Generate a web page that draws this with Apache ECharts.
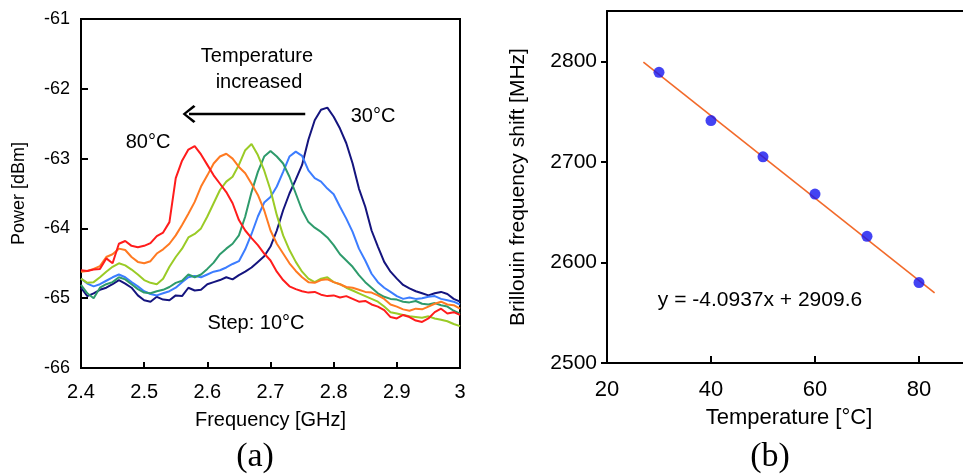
<!DOCTYPE html>
<html>
<head>
<meta charset="utf-8">
<script src="https://cdn.jsdelivr.net/npm/echarts@6/dist/echarts.min.js"></script>
<style>
html,body{margin:0;padding:0;background:#fff;overflow:hidden;}
#c{width:963px;height:476px;}
</style>
</head>
<body>
<div id="c"></div>
<script>
// ---------- Panel (a): spectra ----------
const freqGHz = [2.40,2.41,2.42,2.43,2.44,2.45,2.46,2.47,2.48,2.49,2.50,2.51,2.52,2.53,2.54,2.55,2.56,2.57,2.58,2.59,2.60,2.61,2.62,2.63,2.64,2.65,2.66,2.67,2.68,2.69,2.70,2.71,2.72,2.73,2.74,2.75,2.76,2.77,2.78,2.79,2.80,2.81,2.82,2.83,2.84,2.85,2.86,2.87,2.88,2.89,2.90,2.91,2.92,2.93,2.94,2.95,2.96,2.97,2.98,2.99,3.00];

const power80C = [-64.60,-64.61,-64.59,-64.58,-64.43,-64.50,-64.22,-64.18,-64.25,-64.27,-64.25,-64.21,-64.11,-64.06,-63.91,-63.28,-63.03,-62.87,-62.82,-62.94,-63.09,-63.24,-63.36,-63.48,-63.64,-63.88,-64.03,-64.14,-64.24,-64.36,-64.46,-64.62,-64.74,-64.83,-64.87,-64.90,-64.92,-64.91,-64.95,-64.97,-64.96,-64.99,-64.97,-65.01,-65.05,-65.04,-65.09,-65.12,-65.17,-65.27,-65.29,-65.24,-65.27,-65.32,-65.34,-65.29,-65.20,-65.15,-65.22,-65.20,-65.24];

const power70C = [-64.62,-64.61,-64.58,-64.54,-64.41,-64.37,-64.29,-64.31,-64.41,-64.48,-64.50,-64.47,-64.36,-64.30,-64.22,-64.10,-63.95,-63.79,-63.62,-63.40,-63.24,-63.07,-62.97,-62.93,-63.00,-63.12,-63.21,-63.36,-63.52,-63.74,-64.03,-64.22,-64.36,-64.50,-64.61,-64.70,-64.77,-64.78,-64.74,-64.73,-64.77,-64.80,-64.84,-64.85,-64.88,-64.91,-64.92,-64.96,-65.01,-65.09,-65.12,-65.16,-65.18,-65.15,-65.16,-65.12,-65.08,-65.05,-65.09,-65.10,-65.15];

const power60C = [-64.72,-64.78,-64.77,-64.70,-64.62,-64.55,-64.50,-64.53,-64.59,-64.66,-64.74,-64.78,-64.80,-64.72,-64.55,-64.41,-64.29,-64.13,-64.08,-64.00,-63.83,-63.64,-63.45,-63.33,-63.26,-63.09,-62.88,-62.79,-62.95,-63.17,-63.45,-63.81,-64.10,-64.31,-64.48,-64.62,-64.72,-64.77,-64.72,-64.70,-64.77,-64.80,-64.85,-64.89,-64.93,-64.97,-65.01,-65.05,-65.12,-65.20,-65.22,-65.24,-65.26,-65.27,-65.28,-65.26,-65.29,-65.31,-65.33,-65.37,-65.40];

const power50C = [-64.81,-64.93,-65.00,-64.85,-64.80,-64.77,-64.70,-64.73,-64.80,-64.87,-64.92,-64.93,-64.90,-64.88,-64.84,-64.78,-64.75,-64.66,-64.70,-64.66,-64.58,-64.49,-64.37,-64.29,-64.22,-64.10,-63.83,-63.48,-63.19,-62.97,-62.89,-62.97,-63.07,-63.26,-63.50,-63.74,-63.91,-63.99,-64.05,-64.13,-64.24,-64.37,-64.46,-64.55,-64.67,-64.77,-64.85,-64.93,-64.98,-65.01,-65.02,-65.05,-65.06,-65.04,-65.08,-65.09,-65.07,-65.10,-65.12,-65.18,-65.22];

const power40C = [-64.72,-64.79,-64.83,-64.80,-64.75,-64.70,-64.66,-64.70,-64.77,-64.83,-64.90,-64.94,-64.96,-64.93,-64.90,-64.85,-64.77,-64.70,-64.68,-64.70,-64.66,-64.62,-64.60,-64.56,-64.51,-64.47,-64.30,-64.08,-63.83,-63.63,-63.55,-63.40,-63.19,-62.97,-62.90,-62.96,-63.17,-63.28,-63.33,-63.43,-63.51,-63.69,-63.86,-64.05,-64.29,-64.46,-64.65,-64.77,-64.85,-64.91,-64.97,-65.01,-64.99,-65.01,-65.00,-64.98,-64.97,-65.01,-65.03,-65.05,-65.09];

const power30C = [-64.85,-64.97,-64.93,-64.88,-64.85,-64.80,-64.74,-64.79,-64.85,-64.96,-65.03,-65.05,-64.98,-65.02,-65.03,-64.96,-64.97,-64.85,-64.89,-64.88,-64.80,-64.77,-64.74,-64.70,-64.73,-64.67,-64.62,-64.56,-64.48,-64.40,-64.26,-64.03,-63.74,-63.50,-63.30,-63.09,-62.73,-62.45,-62.30,-62.27,-62.40,-62.57,-62.78,-63.07,-63.43,-63.69,-64.03,-64.26,-64.48,-64.62,-64.72,-64.81,-64.86,-64.90,-64.93,-64.96,-64.93,-64.91,-64.94,-65.01,-65.05];

const freqTicks = [2.4, 2.5, 2.6, 2.7, 2.8, 2.9, 3];
const powerTicks = [-66, -65, -64, -63, -62, -61];

// ---------- Panel (b): BFS vs temperature ----------
const temperatureC = [30, 40, 50, 60, 70, 80];
const bfsMHz = [2789, 2741, 2705, 2668, 2626, 2580];
const fitLineX = [27, 83];
const fitLineY = [2799.1, 2569.8];
const tempTicks = [20, 40, 60, 80];
const bfsTicks = [2500, 2600, 2700, 2800];

const spectraSeries = [
  {name: '30°C', data: power30C, color: '#14147e'},
  {name: '40°C', data: power40C, color: '#3c7dff'},
  {name: '50°C', data: power50C, color: '#2e9b6c'},
  {name: '60°C', data: power60C, color: '#9acb26'},
  {name: '70°C', data: power70C, color: '#ff7a22'},
  {name: '80°C', data: power80C, color: '#ff1c1c'}
];

const FONT = '"Liberation Sans", Arial, sans-serif';
const chart = echarts.init(document.getElementById('c'), null, {renderer: 'canvas'});

const series = spectraSeries.map(s => ({
  type: 'line', xAxisIndex: 0, yAxisIndex: 0,
  data: freqGHz.map((f, i) => [f, s.data[i]]),
  showSymbol: false, symbol: 'none',
  lineStyle: {color: s.color, width: 2},
  z: 3
}));

// arrow annotation on panel (a)
series.push({
  type: 'line', xAxisIndex: 0, yAxisIndex: 0, data: [], silent: true,
  markLine: {
    silent: true, animation: false,
    symbol: ['none', 'path://M0,0 L10,11 L8,13 L0,3.5 L-8,13 L-10,11 Z'],
    symbolSize: [18, 13],
    label: {show: false},
    lineStyle: {color: '#000', width: 2.4, type: 'solid'},
    data: [[{coord: [2.755, -62.36]}, {coord: [2.571, -62.36]}]]
  }
});

series.push({
  type: 'line', xAxisIndex: 1, yAxisIndex: 1,
  data: fitLineX.map((x, i) => [x, fitLineY[i]]),
  showSymbol: false, symbol: 'none',
  lineStyle: {color: '#f26a2a', width: 1.6}, z: 3
});
series.push({
  type: 'scatter', xAxisIndex: 1, yAxisIndex: 1,
  data: temperatureC.map((t, i) => [t, bfsMHz[i]]),
  symbolSize: 11, itemStyle: {color: '#1414f0'}, z: 4
});

const axisLabelStyle = (size) => ({color: '#000', fontSize: size, fontFamily: FONT});

chart.setOption({
  animation: false,
  backgroundColor: '#fff',
  grid: [
    {left: 81, top: 19, width: 379, height: 349, show: true, borderColor: '#000', borderWidth: 2, backgroundColor: 'transparent', containLabel: false, outerBoundsMode: 'none'},
    {left: 607, top: 11, width: 364, height: 352, show: false, containLabel: false, outerBoundsMode: 'none'}
  ],
  xAxis: [
    {
      type: 'value', gridIndex: 0, min: 2.4, max: 3, interval: 0.1,
      axisLine: {show: true, lineStyle: {color: '#000', width: 2}},
      axisTick: {show: true, inside: true, length: 6, lineStyle: {color: '#000', width: 2}},
      splitLine: {show: false},
      axisLabel: Object.assign(axisLabelStyle(20), {margin: 14, formatter: v => {
        const r = Math.round(v * 10) / 10; return freqTicks.indexOf(r) >= 0 ? String(r) : '';
      }}),
      name: 'Frequency [GHz]', nameLocation: 'middle', nameGap: 42,
      nameTextStyle: {color: '#000', fontSize: 20, fontFamily: FONT}
    },
    {
      type: 'value', gridIndex: 1, min: 20, max: 90, interval: 20,
      axisLine: {show: true, onZero: false, lineStyle: {color: '#000', width: 2}},
      axisTick: {show: true, inside: true, length: 7, customValues: tempTicks, lineStyle: {color: '#000', width: 2}},
      splitLine: {show: false},
      axisLabel: Object.assign(axisLabelStyle(22), {margin: 16, customValues: tempTicks, formatter: v => String(v)}),
      name: 'Temperature [°C]', nameLocation: 'middle', nameGap: 44,
      nameTextStyle: {color: '#000', fontSize: 22, fontFamily: FONT}
    },
    {
      type: 'value', gridIndex: 1, position: 'top', min: 20, max: 90,
      axisLine: {show: true, onZero: false, lineStyle: {color: '#000', width: 2}},
      axisTick: {show: false}, axisLabel: {show: false}, splitLine: {show: false}
    }
  ],
  yAxis: [
    {
      type: 'value', gridIndex: 0, min: -66, max: -61, interval: 1,
      axisLine: {show: true, lineStyle: {color: '#000', width: 2}},
      axisTick: {show: true, inside: true, length: 7, lineStyle: {color: '#000', width: 2}},
      splitLine: {show: false},
      axisLabel: Object.assign(axisLabelStyle(18), {margin: 11, formatter: v => powerTicks.indexOf(v) >= 0 ? String(v) : ''}),
      name: 'Power [dBm]', nameLocation: 'middle', nameGap: 53, nameRotate: 90,
      nameTextStyle: {color: '#000', fontSize: 18, fontFamily: FONT}
    },
    {
      type: 'value', gridIndex: 1, min: 2500, max: 2850, interval: 100,
      axisLine: {show: true, onZero: false, lineStyle: {color: '#000', width: 2}},
      axisTick: {show: true, inside: false, length: 6, customValues: bfsTicks, lineStyle: {color: '#000', width: 2}},
      splitLine: {show: false},
      axisLabel: Object.assign(axisLabelStyle(21), {margin: 10, customValues: bfsTicks, formatter: v => String(v)}),
      name: 'Brillouin frequency shift [MHz]', nameLocation: 'middle', nameGap: 78, nameRotate: 90,
      nameTextStyle: {color: '#000', fontSize: 21, fontFamily: FONT}
    }
  ],
  graphic: [
    {type: 'text', style: {text: 'Temperature', x: 257, y: 56, fill: '#000', font: '20px ' + FONT, textAlign: 'center', textVerticalAlign: 'middle'}},
    {type: 'text', style: {text: 'increased', x: 259, y: 82, fill: '#000', font: '20px ' + FONT, textAlign: 'center', textVerticalAlign: 'middle'}},
    {type: 'text', style: {text: '30°C', x: 373, y: 116, fill: '#000', font: '20px ' + FONT, textAlign: 'center', textVerticalAlign: 'middle'}},
    {type: 'text', style: {text: '80°C', x: 148, y: 142, fill: '#000', font: '20px ' + FONT, textAlign: 'center', textVerticalAlign: 'middle'}},
    {type: 'text', style: {text: 'Step: 10°C', x: 256, y: 323, fill: '#000', font: '20px ' + FONT, textAlign: 'center', textVerticalAlign: 'middle'}},
    {type: 'text', style: {text: 'y = -4.0937x + 2909.6', x: 760, y: 300, fill: '#000', font: '21px ' + FONT, textAlign: 'center', textVerticalAlign: 'middle'}},
    {type: 'text', style: {text: '(a)', x: 255, y: 457, fill: '#000', font: '34px "Liberation Serif", "DejaVu Serif", serif', textAlign: 'center', textVerticalAlign: 'middle'}},
    {type: 'text', style: {text: '(b)', x: 770, y: 457, fill: '#000', font: '34px "Liberation Serif", "DejaVu Serif", serif', textAlign: 'center', textVerticalAlign: 'middle'}}
  ],
  series: series
});
</script>
</body>
</html>
